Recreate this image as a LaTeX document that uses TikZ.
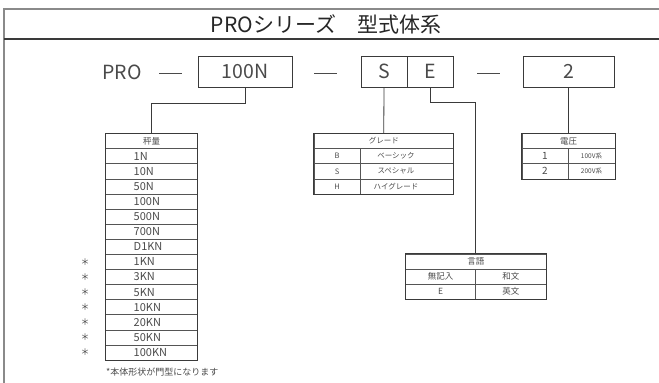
\documentclass[tikz,border=0pt]{standalone}
\usepackage{fontspec}
\setmainfont{Noto Sans CJK JP}
\definecolor{linec}{HTML}{3A3A3A}
\definecolor{thin}{HTML}{555555}
\definecolor{textc}{HTML}{4A4A4A}
\definecolor{framec}{HTML}{8A8A8A}
\begin{document}
\begin{tikzpicture}[x=1pt,y=-1pt,
  box/.style={draw=linec, line width=0.8pt, inner sep=0, minimum height=31pt, text=textc, font=\fontsize{19.5}{20}\selectfont},
  cell/.style={draw=thin, line width=0.6pt, inner sep=0, minimum height=15.1pt},
  outer/.style={draw=linec, line width=1pt},
  conn/.style={draw=linec, line width=0.8pt},
  dashl/.style={draw=textc, line width=0.8pt},
  txt/.style={text=textc, inner sep=0},
  wtxt/.style={txt, font=\fontsize{11}{12}\selectfont},
  stxt/.style={txt, font=\fontsize{7.5}{8}\selectfont},
  htxt/.style={txt, font=\fontsize{8.5}{9}\selectfont}]
\useasboundingbox (0,0) rectangle (659,383);
% frame
\draw[framec, line width=1.4pt] (4,383) -- (4,9) -- (659,9);
\draw[linec, line width=1.5pt] (4,39) -- (659,39);
\node[txt, text=black!85, font=\fontsize{21}{22}\selectfont] (title) at (326,24) {PROシリーズ　型式体系};
% top row
\node[txt, font=\fontsize{19.5}{20}\selectfont] (pro) at (122,72) {PRO};
\coordinate (d1a) at (159,73); \coordinate (d1b) at (182,73);
\draw[dashl] (d1a) -- (d1b);
\node[box, minimum width=94pt] (b100) at (245,71.5) {100N};
\coordinate (d2a) at (314,73); \coordinate (d2b) at (337,73);
\draw[dashl] (d2a) -- (d2b);
\node[box, minimum width=46pt] (cS) at (384,71.5) {S};
\node[box, minimum width=46pt] (cE) at (430,71.5) {E};
\coordinate (d3a) at (477,73); \coordinate (d3b) at (500,73);
\draw[dashl] (d3a) -- (d3b);
\node[box, minimum width=91pt] (b2) at (568.5,71.5) {2};
% weight table
\node[cell, minimum width=92pt] (wh) at (151.5,141.05) {};
\node[htxt] (wht) at (wh) {秤量};
\foreach \t [count=\i] in {1N,10N,50N,100N,500N,700N,D1KN,1KN,3KN,5KN,10KN,20KN,50KN,100KN}{
  \node[cell, minimum width=92pt] (w\i) at (151.5,{141.05+15.1*\i}) {};
  \node[wtxt, anchor=west] (wt\i) at (133.5,{141.05+15.1*\i}) {\t};
}
\foreach \i in {8,...,14}{
  \node[txt, font=\fontsize{9}{9}\selectfont] (ast\i) at (85,{141.05+15.1*\i}) {＊};
}
\draw[outer] (wh.north west) rectangle (w14.south east);
\node[txt, anchor=west, font=\fontsize{9}{10}\selectfont] (note) at (106,372.5) {*本体形状が門型になります};
\draw[conn] (b100.south) -- ++(0,16) -| (wh.north);
% grade table
\node[cell, minimum width=139.5pt] (gh) at (383.75,141.05) {};
\node[stxt] (ght) at (gh) {グレード};
\foreach \a/\b [count=\i] in {B/ベーシック,S/スペシャル,H/ハイグレード}{
  \node[cell, minimum width=46pt] (ga\i) at (337,{141.05+15.1*\i}) {};
  \node[cell, minimum width=93.5pt] (gb\i) at (406.75,{141.05+15.1*\i}) {};
  \node[stxt] (gat\i) at (ga\i) {\a};
  \node[stxt] (gbt\i) at (396,{141.05+15.1*\i}) {\b};
}
\draw[outer] (gh.north west) rectangle (gb3.south east);
\draw[conn] (cS.south) -- (gh.north);
% voltage table
\node[cell, minimum width=93pt] (vh) at (568.5,141.05) {};
\node[htxt] (vht) at (vh) {電圧};
\foreach \a/\b [count=\i] in {1/100V系,2/200V系}{
  \node[cell, minimum width=46pt] (va\i) at (545,{141.05+15.1*\i}) {};
  \node[cell, minimum width=47pt] (vb\i) at (591.5,{141.05+15.1*\i}) {};
  \node[txt, font=\fontsize{10}{10}\selectfont] (vat\i) at (va\i) {\a};
  \node[txt, font=\fontsize{6.5}{7}\selectfont] (vbt\i) at (vb\i) {\b};
}
\draw[outer] (vh.north west) rectangle (vb2.south east);
\draw[conn] (b2.south) -- (vh.north);
% language table
\node[cell, minimum width=140.5pt] (lh) at (475.75,261.55) {};
\node[htxt] (lht) at (lh) {言語};
\foreach \a/\b [count=\i] in {無記入/和文,E/英文}{
  \node[cell, minimum width=70.25pt] (la\i) at (440.6,{261.55+15.1*\i}) {};
  \node[cell, minimum width=70.25pt] (lb\i) at (510.9,{261.55+15.1*\i}) {};
  \node[htxt] (lat\i) at (la\i) {\a};
  \node[htxt] (lbt\i) at (lb\i) {\b};
}
\draw[outer] (lh.north west) rectangle (lb2.south east);
\draw[conn] (cE.south) -- ++(0,15) -| (lh.north);
\end{tikzpicture}
\end{document}
